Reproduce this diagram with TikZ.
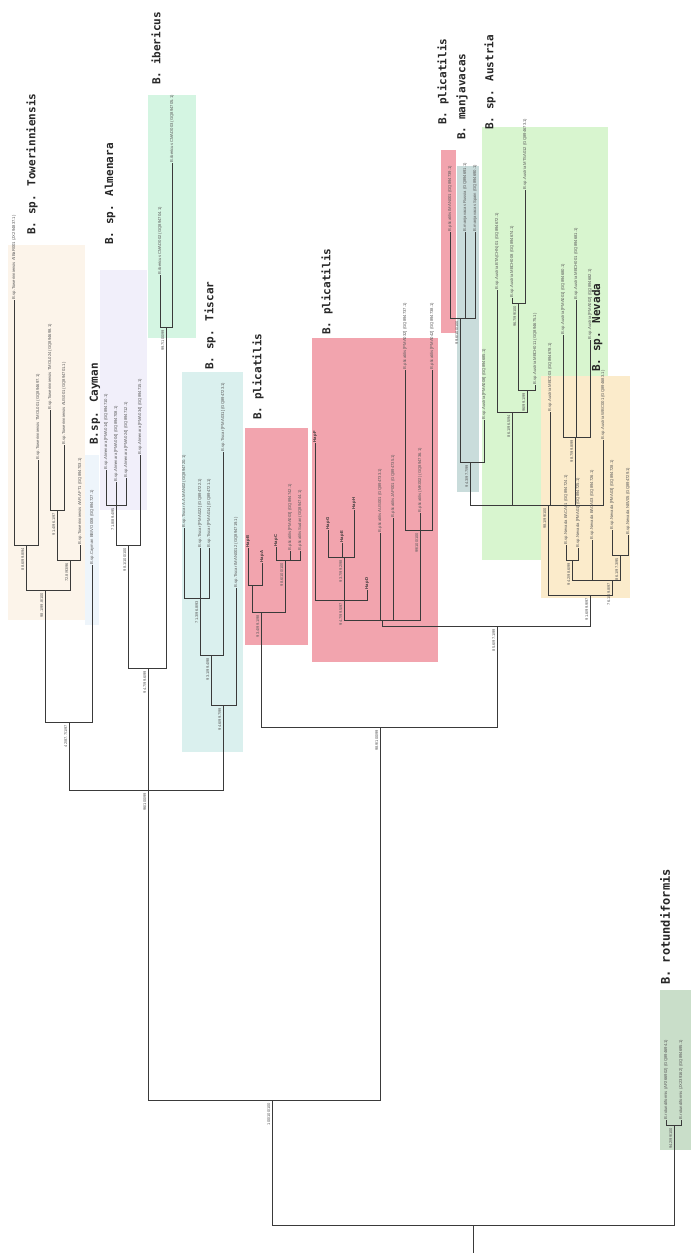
\documentclass[tikz,border=0pt]{standalone}
\usepackage{fontspec}
\newfontfamily\labfont{Liberation Sans}
\newfontfamily\ttlfont{DejaVu Sans Mono}
\definecolor{cTow}{HTML}{FCF4EA}
\definecolor{cCay}{HTML}{EEF5FB}
\definecolor{cAlm}{HTML}{F1EFFA}
\definecolor{cIbe}{HTML}{D4F5E2}
\definecolor{cTis}{HTML}{DAF0EE}
\definecolor{cPli}{HTML}{F2A4AE}
\definecolor{cMan}{HTML}{C9DCDB}
\definecolor{cAus}{HTML}{D8F5CF}
\definecolor{cNev}{HTML}{FBEBCB}
\definecolor{cRot}{HTML}{C9DEC9}
\definecolor{lineC}{HTML}{3A3A3A}
\tikzset{
  br/.style={draw=lineC, line width=0.8pt},
  tiplab/.style={font=\labfont\fontsize{4.2}{4.2}\selectfont, text=black!65, rotate=90, anchor=west, inner sep=0.6pt},
  haplab/.style={font=\labfont\bfseries\fontsize{4.2}{4.2}\selectfont, text=black!80, rotate=90, anchor=west, inner sep=0.6pt},
  nlab/.style={font=\labfont\fontsize{4}{4}\selectfont, text=black!65, rotate=90, anchor=south east, inner sep=0.6pt},
  ttl/.style={font=\ttlfont\bfseries\fontsize{11}{11}\selectfont, text=black!85, rotate=90, anchor=west, inner sep=0pt},
  bigttl/.style={ttl, font=\ttlfont\bfseries\fontsize{12}{12}\selectfont}
}
\begin{document}
\begin{tikzpicture}[x=1pt,y=-1pt]
\useasboundingbox (0,0) rectangle (691,1253);
\fill[white] (0,0) rectangle (691,1253);
% ---- clade boxes
\fill[cTow] (8,245) rectangle (85,620);
\fill[cCay] (85,455) rectangle (99,625);
\fill[cAlm] (100,270) rectangle (147,510);
\fill[cIbe] (148,95) rectangle (196,338);
\fill[cTis] (182,372) rectangle (243,752);
\fill[cPli] (245,428) rectangle (308,645);
\fill[cPli] (312,338) rectangle (438,662);
\fill[cPli] (441,150) rectangle (456,333);
\fill[cMan] (457,166) rectangle (479,492);
\fill[cAus] (482,127) rectangle (608,560);
\fill[cNev] (541,376) rectangle (630,598);
\fill[cRot] (660,990) rectangle (691,1150);
% ---- clade titles
\node[ttl] (tTow) at (32,235) {B. sp. Towerinniensis};
\node[ttl] (tAlm) at (110,245) {B. sp. Almenara};
\node[ttl] (tIbe) at (156,85) {B. ibericus};
\node[ttl] (tCay) at (95,445) {B.sp. Cayman};
\node[ttl] (tTis) at (210,370) {B. sp. Tiscar};
\node[ttl] (tPl1) at (258,420) {B. plicatilis};
\node[ttl] (tPl2) at (327,335) {B. plicatilis};
\node[ttl] (tPl3) at (443,125) {B. plicatilis};
\node[ttl] (tMan) at (462,140) {B. manjavacas};
\node[ttl] (tAus) at (490,130) {B. sp. Austria};
\node[ttl] (tNev) at (597,372) {B. sp. Nevada};
\node[bigttl] (tRot) at (665,985) {B. rotundiformis};
% ---- tree node coordinates
\coordinate (base) at (473,1253);
\coordinate (root) at (473,1225);
\coordinate (rt) at (674,1125);
\coordinate (rta) at (666,1120);
\coordinate (rtb) at (681,1120);
\coordinate (L) at (272,1100);
\coordinate (B) at (380,727);
\coordinate (C) at (148,790);
\coordinate (W) at (69,722);
\coordinate (W0) at (45,590);
\coordinate (Wa) at (26,545);
\coordinate (wa1) at (14,300);
\coordinate (wa2) at (38,460);
\coordinate (Wb) at (70,560);
\coordinate (Wd) at (57,510);
\coordinate (wd1) at (50,410);
\coordinate (wd2) at (64,445);
\coordinate (wb2) at (80,545);
\coordinate (cay) at (92,565);
\coordinate (AI) at (148,668);
\coordinate (Alm0) at (128,545);
\coordinate (Alm1) at (116,505);
\coordinate (al1) at (106,470);
\coordinate (al2) at (116,482);
\coordinate (al3) at (126,478);
\coordinate (al4) at (140,455);
\coordinate (Ib) at (166,327);
\coordinate (ib1) at (160,275);
\coordinate (ib2) at (172,163);
\coordinate (T) at (223,705);
\coordinate (T1) at (211,655);
\coordinate (T2) at (200,598);
\coordinate (ti1) at (184,528);
\coordinate (ti2) at (200,548);
\coordinate (ti3) at (209,548);
\coordinate (ti4) at (223,452);
\coordinate (ti5) at (236,588);
\coordinate (P1) at (261,612);
\coordinate (Pa) at (252,585);
\coordinate (hB) at (248,548);
\coordinate (hA) at (262,563);
\coordinate (Pc) at (285,560);
\coordinate (hC) at (276,547);
\coordinate (pc2) at (290,551);
\coordinate (pc3) at (300,551);
\coordinate (Q) at (497,626);
\coordinate (Q2) at (382,620);
\coordinate (Qa) at (344,600);
\coordinate (hF) at (315,443);
\coordinate (Hg) at (344,557);
\coordinate (hG) at (328,530);
\coordinate (hE) at (342,543);
\coordinate (hH) at (354,510);
\coordinate (hD) at (367,590);
\coordinate (q2) at (380,533);
\coordinate (q3) at (393,518);
\coordinate (Qb) at (420,530);
\coordinate (qb1) at (405,370);
\coordinate (qb2) at (420,513);
\coordinate (qb3) at (432,370);
\coordinate (N) at (590,595);
\coordinate (A) at (548,505);
\coordinate (M2) at (470,462);
\coordinate (M) at (460,318);
\coordinate (m1) at (450,232);
\coordinate (m2) at (465,232);
\coordinate (m3) at (475,232);
\coordinate (m4) at (484,420);
\coordinate (Aus1) at (512,412);
\coordinate (a1) at (497,290);
\coordinate (Aus3) at (527,390);
\coordinate (Aus4) at (518,303);
\coordinate (a2) at (512,298);
\coordinate (a3) at (525,190);
\coordinate (a4) at (535,385);
\coordinate (a5) at (550,412);
\coordinate (Aus2) at (575,437);
\coordinate (a6) at (563,335);
\coordinate (a7) at (576,300);
\coordinate (a8) at (590,340);
\coordinate (a9) at (603,440);
\coordinate (Nv) at (612,580);
\coordinate (Nv1) at (572,560);
\coordinate (n1) at (566,545);
\coordinate (n2) at (578,548);
\coordinate (n3) at (592,540);
\coordinate (Nv2) at (620,555);
\coordinate (n4) at (612,530);
\coordinate (n5) at (628,535);
% ---- branches
\draw[br] (base) -- (root);
\draw[br] (root) -| (L);
\draw[br] (root) -| (rt);
\draw[br] (rt) -| (rta);
\draw[br] (rt) -| (rtb);
\draw[br] (L) -| (C);
\draw[br] (L) -| (B);
\draw[br] (C) -| (W);
\draw[br] (C) -- (AI);
\draw[br] (C) -| (T);
\draw[br] (W) -| (W0);
\draw[br] (W) -| (cay);
\draw[br] (W0) -| (Wa);
\draw[br] (W0) -| (Wb);
\draw[br] (Wa) -| (wa1);
\draw[br] (Wa) -| (wa2);
\draw[br] (Wb) -| (Wd);
\draw[br] (Wb) -| (wb2);
\draw[br] (Wd) -| (wd1);
\draw[br] (Wd) -| (wd2);
\draw[br] (AI) -| (Alm0);
\draw[br] (AI) -| (Ib);
\draw[br] (Alm0) -| (Alm1);
\draw[br] (Alm0) -| (al4);
\draw[br] (Alm1) -| (al1);
\draw[br] (Alm1) -- (al2);
\draw[br] (Alm1) -| (al3);
\draw[br] (Ib) -| (ib1);
\draw[br] (Ib) -| (ib2);
\draw[br] (T) -| (T1);
\draw[br] (T) -| (ti5);
\draw[br] (T1) -| (T2);
\draw[br] (T1) -| (ti4);
\draw[br] (T2) -| (ti1);
\draw[br] (T2) -- (ti2);
\draw[br] (T2) -| (ti3);
\draw[br] (B) -| (P1);
\draw[br] (B) -| (Q);
\draw[br] (P1) -| (Pa);
\draw[br] (P1) -| (Pc);
\draw[br] (Pa) -| (hB);
\draw[br] (Pa) -| (hA);
\draw[br] (Pc) -| (hC);
\draw[br] (Pc) -| (pc2);
\draw[br] (Pc) -| (pc3);
\draw[br] (Q) -| (Q2);
\draw[br] (Q) -| (N);
\draw[br] (Q2) -| (Qa);
\draw[br] (Q2) -| (q2);
\draw[br] (Q2) -| (q3);
\draw[br] (Q2) -| (Qb);
\draw[br] (Qa) -| (hF);
\draw[br] (Qa) -- (Hg);
\draw[br] (Qa) -| (hD);
\draw[br] (Hg) -| (hG);
\draw[br] (Hg) -| (hE);
\draw[br] (Hg) -| (hH);
\draw[br] (Qb) -| (qb1);
\draw[br] (Qb) -- (qb2);
\draw[br] (Qb) -| (qb3);
\draw[br] (N) -| (A);
\draw[br] (N) -| (Nv);
\draw[br] (A) -| (M2);
\draw[br] (A) -| (Aus1);
\draw[br] (A) -| (a5);
\draw[br] (A) -| (Aus2);
\draw[br] (A) -| (a9);
\draw[br] (M2) -| (M);
\draw[br] (M2) -| (m4);
\draw[br] (M) -| (m1);
\draw[br] (M) -| (m2);
\draw[br] (M) -| (m3);
\draw[br] (Aus1) -| (a1);
\draw[br] (Aus1) -| (Aus3);
\draw[br] (Aus3) -| (Aus4);
\draw[br] (Aus3) -| (a4);
\draw[br] (Aus4) -| (a2);
\draw[br] (Aus4) -| (a3);
\draw[br] (Aus2) -| (a6);
\draw[br] (Aus2) -| (a7);
\draw[br] (Aus2) -| (a8);
\draw[br] (Nv) -| (Nv1);
\draw[br] (Nv) -| (n3);
\draw[br] (Nv) -| (Nv2);
\draw[br] (Nv1) -| (n1);
\draw[br] (Nv1) -| (n2);
\draw[br] (Nv2) -| (n4);
\draw[br] (Nv2) -| (n5);
% ---- tip labels
\node[tiplab] (Lrta) at (rta) {B.rotundiformis (AF266902) (GQ894694.1)};
\node[tiplab] (Lrtb) at (rtb) {B.rotundiformis (JX239162) (GQ894695.1)};
\node[tiplab] (Lwa1) at (wa1) {B.sp.Towerinniensis A/BaR001 (JX294837.1)};
\node[tiplab] (Lwa2) at (wa2) {B.sp.Towerinniensis TMOL001 (GQ894697.1)};
\node[tiplab] (Lwd1) at (wd1) {B.sp.Towerinniensis TMOL024 (GQ894698.1)};
\node[tiplab] (Lwd2) at (wd2) {B.sp.Towerinniensis AUS001 (GQ894701.1)};
\node[tiplab] (Lwb2) at (wb2) {B.sp.Towerinniensis AAR.AFT1 (GQ894703.1)};
\node[tiplab] (Lcay) at (cay) {B.sp.Cayman BB/VO008 (GQ894727.1)};
\node[tiplab] (Lal1) at (al1) {B.sp.Almenara [PMA014] (GQ894710.1)};
\node[tiplab] (Lal2) at (al2) {B.sp.Almenara [PMA004] (GQ894708.1)};
\node[tiplab] (Lal3) at (al3) {B.sp.Almenara [PMA024] (GQ894712.1)};
\node[tiplab] (Lal4) at (al4) {B.sp.Almenara [PMA034] (GQ894715.1)};
\node[tiplab] (Lib1) at (ib1) {B.ibericus CMAD002 (GQ894704.1)};
\node[tiplab] (Lib2) at (ib2) {B.ibericus CMAD003 (GQ894705.1)};
\node[tiplab] (Lti1) at (ti1) {B.sp.Tiscar A.A.MAN02 (GQ894720.1)};
\node[tiplab] (Lti2) at (ti2) {B.sp.Tiscar [PMA022] (GQ894722.1)};
\node[tiplab] (Lti3) at (ti3) {B.sp.Tiscar [PMA014] (GQ894721.1)};
\node[tiplab] (Lti4) at (ti4) {B.sp.Tiscar [PMA031] (GQ894723.1)};
\node[tiplab] (Lti5) at (ti5) {B.sp.Tiscar IMAN0012 (GQ894719.1)};
\node[haplab] (LhB) at (hB) {Hap B};
\node[haplab] (LhA) at (hA) {Hap A};
\node[haplab] (LhC) at (hC) {Hap C};
\node[tiplab] (Lpc2) at (pc2) {B.plicatilis [PMA003] (GQ894742.1)};
\node[tiplab] (Lpc3) at (pc3) {B.plicatilis Sudan (GQ894744.1)};
\node[haplab] (LhF) at (hF) {Hap F};
\node[haplab] (LhG) at (hG) {Hap G};
\node[haplab] (LhE) at (hE) {Hap E};
\node[haplab] (LhH) at (hH) {Hap H};
\node[haplab] (LhD) at (hD) {Hap D};
\node[tiplab] (Lq2) at (q2) {B.plicatilis AUS001 (GQ894733.1)};
\node[tiplab] (Lq3) at (q3) {B.plicatilis JAP001 (GQ894735.1)};
\node[tiplab] (Lqb1) at (qb1) {B.plicatilis [PMA032] (GQ894737.1)};
\node[tiplab] (Lqb2) at (qb2) {B.plicatilis (MK002) (GQ894736.1)};
\node[tiplab] (Lqb3) at (qb3) {B.plicatilis [PMA042] (GQ894738.1)};
\node[tiplab] (Lm1) at (m1) {B.plicatilis IMAN001 (GQ894739.1)};
\node[tiplab] (Lm2) at (m2) {B.manjavacas Russia (GQ894691.1)};
\node[tiplab] (Lm3) at (m3) {B.manjavacas Spain (GQ894690.1)};
\node[tiplab] (Lm4) at (m4) {B.sp.Austria [PMA008] (GQ894685.1)};
\node[tiplab] (La1) at (a1) {B.sp.Austria BTA(CHN)01 (GQ894672.1)};
\node[tiplab] (La2) at (a2) {B.sp.Austria MBCH008 (GQ894674.1)};
\node[tiplab] (La3) at (a3) {B.sp.Austria MTSA012 (GQ894673.1)};
\node[tiplab] (La4) at (a4) {B.sp.Austria MBCH011 (GQ894675.1)};
\node[tiplab] (La5) at (a5) {B.sp.Austria MBC003 (GQ894678.1)};
\node[tiplab] (La6) at (a6) {B.sp.Austria [PMA001] (GQ894680.1)};
\node[tiplab] (La7) at (a7) {B.sp.Austria MBCH001 (GQ894681.1)};
\node[tiplab] (La8) at (a8) {B.sp.Austria [PMA002] (GQ894682.1)};
\node[tiplab] (La9) at (a9) {B.sp.Austria WBC001 (GQ894683.1)};
\node[tiplab] (Ln1) at (n1) {B.sp.Nevada BACA01 (GQ894724.1)};
\node[tiplab] (Ln2) at (n2) {B.sp.Nevada [PMA01] (GQ894725.1)};
\node[tiplab] (Ln3) at (n3) {B.sp.Nevada BACA03 (GQ894726.1)};
\node[tiplab] (Ln4) at (n4) {B.sp.Nevada [PMA03] (GQ894728.1)};
\node[tiplab] (Ln5) at (n5) {B.sp.Nevada NEV05 (GQ894729.1)};
% ---- node support labels
\node[nlab] (sL) at ([xshift=-1pt,yshift=-2pt]L) {100/100/100};
\node[nlab] (sRt) at ([xshift=-1pt,yshift=-2pt]rt) {94.2/99/100};
\node[nlab] (sB) at ([xshift=-1pt,yshift=-2pt]B) {98.9/100/99};
\node[nlab] (sC) at ([xshift=-1pt,yshift=-2pt]C) {96/100/99};
\node[nlab] (sW) at ([xshift=-1pt,yshift=-2pt]W) {42/87.7/1/97};
\node[nlab] (sW0) at ([xshift=-1pt,yshift=-2pt]W0) {98.1/99.8/100};
\node[nlab] (sWa) at ([xshift=-1pt,yshift=-2pt]Wa) {88.6/99.8/94};
\node[nlab] (sWb) at ([xshift=-1pt,yshift=-2pt]Wb) {72.8/93/96};
\node[nlab] (sWd) at ([xshift=-1pt,yshift=-2pt]Wd) {91.4/96.1/97};
\node[nlab] (sAI) at ([xshift=-1pt,yshift=-2pt]AI) {94.7/99.6/99};
\node[nlab] (sAlm0) at ([xshift=-1pt,yshift=-2pt]Alm0) {98.1/100/100};
\node[nlab] (sAlm1) at ([xshift=-1pt,yshift=-2pt]Alm1) {71.8/89.4/95};
\node[nlab] (sIb) at ([xshift=-1pt,yshift=-2pt]Ib) {99.7/100/99};
\node[nlab] (sT) at ([xshift=-1pt,yshift=-2pt]T) {94.6/99.7/99};
\node[nlab] (sT1) at ([xshift=-1pt,yshift=-2pt]T1) {93.1/99.4/98};
\node[nlab] (sT2) at ([xshift=-1pt,yshift=-2pt]T2) {71.3/96.8/93};
\node[nlab] (sP1) at ([xshift=-1pt,yshift=-2pt]P1) {93.4/99.1/98};
\node[nlab] (sPc) at ([xshift=-1pt,yshift=-2pt]Pc) {98.6/100/100};
\node[nlab] (sQ) at ([xshift=-1pt,yshift=-2pt]Q) {85.6/97.1/99};
\node[nlab] (sQa) at ([xshift=-1pt,yshift=-2pt]Qa) {94.7/99.5/97};
\node[nlab] (sHg) at ([xshift=-1pt,yshift=-2pt]Hg) {93.7/99.2/98};
\node[nlab] (sQb) at ([xshift=-1pt,yshift=-2pt]Qb) {99/100/100};
\node[nlab] (sN) at ([xshift=-1pt,yshift=-2pt]N) {91.6/99.9/97};
\node[nlab] (sA) at ([xshift=-1pt,yshift=-2pt]A) {98.1/99/100};
\node[nlab] (sM2) at ([xshift=-1pt,yshift=-2pt]M2) {94.3/97.7/99};
\node[nlab] (sM) at ([xshift=-1pt,yshift=-2pt]M) {99.6/100/100};
\node[nlab] (sAus1) at ([xshift=-1pt,yshift=-2pt]Aus1) {86.1/96.5/94};
\node[nlab] (sAus3) at ([xshift=-1pt,yshift=-2pt]Aus3) {96/99.1/99};
\node[nlab] (sAus4) at ([xshift=-1pt,yshift=-2pt]Aus4) {96.7/99/100};
\node[nlab] (sAus2) at ([xshift=-1pt,yshift=-2pt]Aus2) {98.7/99.8/99};
\node[nlab] (sNv) at ([xshift=-1pt,yshift=-2pt]Nv) {76.1/69.8/97};
\node[nlab] (sNv1) at ([xshift=-1pt,yshift=-2pt]Nv1) {94.2/98.6/99};
\node[nlab] (sNv2) at ([xshift=-1pt,yshift=-2pt]Nv2) {86.1/97.3/95};
\end{tikzpicture}
\end{document}
